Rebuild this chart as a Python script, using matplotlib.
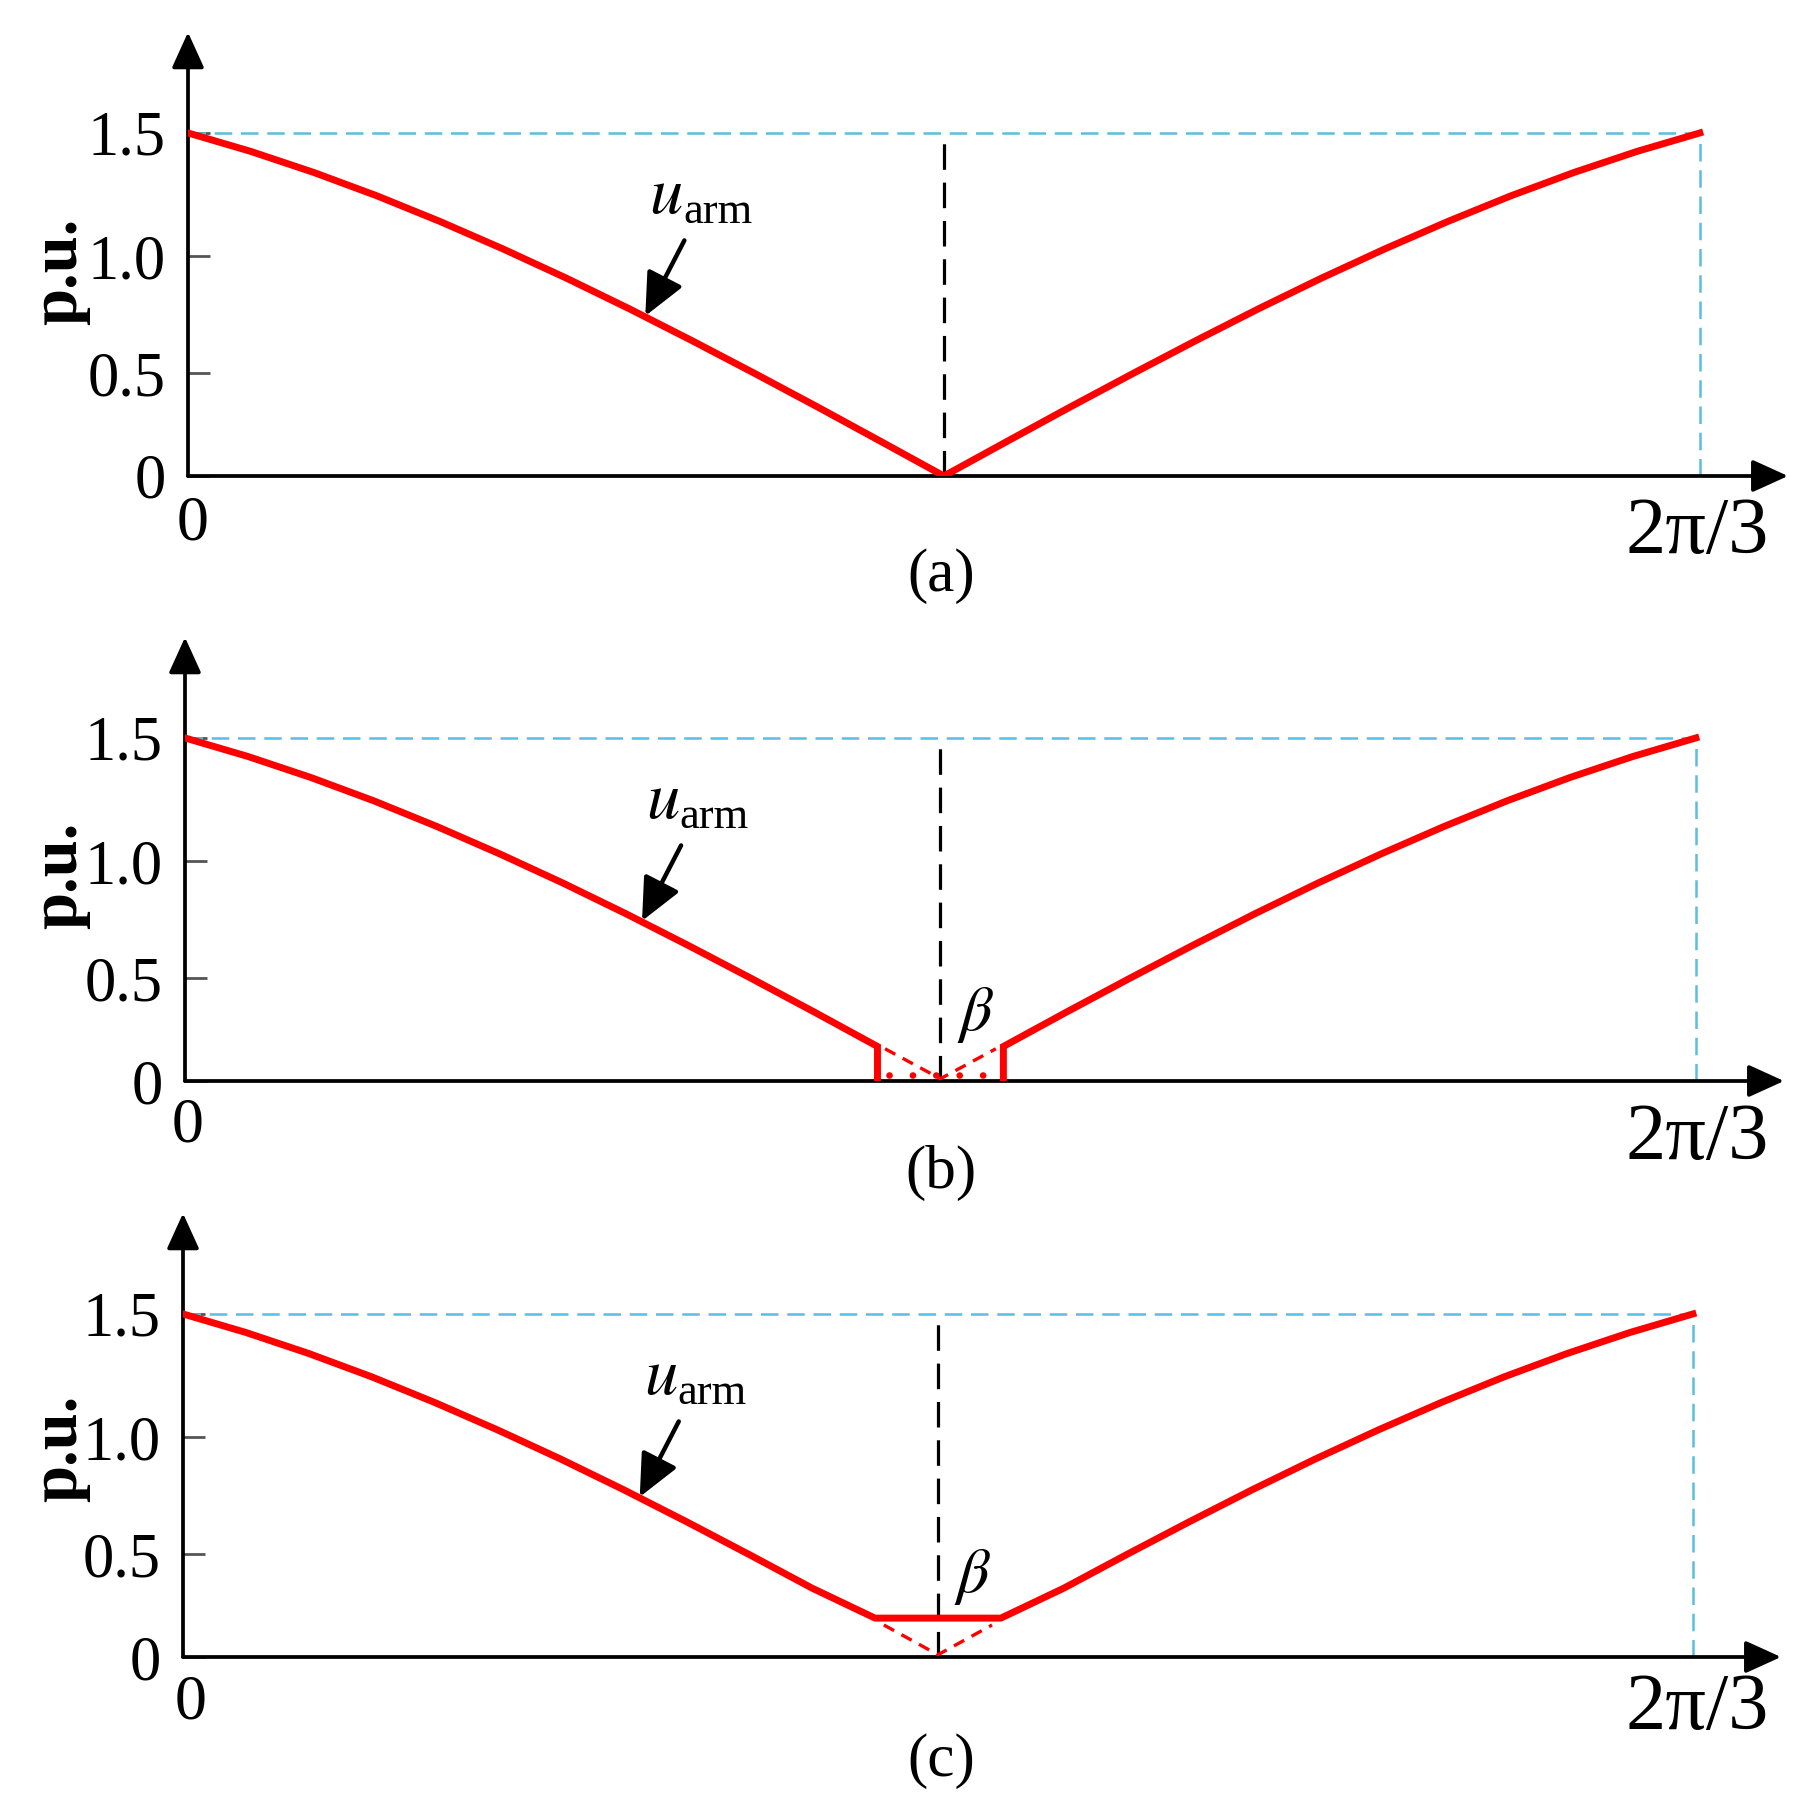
import matplotlib
matplotlib.use('Agg')
import matplotlib.pyplot as plt

plt.rcParams['font.family'] = ['Liberation Serif', 'DejaVu Serif']
plt.rcParams['mathtext.fontset'] = 'stix'

# ---------------- data ----------------
theta_left = [0, 5, 10, 15, 20, 25, 30, 35, 40, 45, 50, 55, 60]
u_left = [1.5, 1.419, 1.327, 1.225, 1.113, 0.993, 0.866, 0.732, 0.592, 0.448, 0.301, 0.151, 0.0]
theta_right = [60, 65, 70, 75, 80, 85, 90, 95, 100, 105, 110, 115, 120]
u_right = [0.0, 0.151, 0.301, 0.448, 0.592, 0.732, 0.866, 0.993, 1.113, 1.225, 1.327, 1.419, 1.5]
beta_lo, beta_mid, beta_hi = 55, 60, 65
u_beta_b = 0.151
u_flat_c = 0.17
u_peak = 1.5
theta_end = 120
# tick marks as drawn in the original figure (slightly irregular spacing)
y_tick_positions = [0, 0.45, 0.96, 1.5]
y_ticklabels = ['0', '0.5', '1.0', '1.5']
panel_labels = ['(a)', '(b)', '(c)']
x_start_label = '0'
x_end_label = '2π/3'

# ---------------- layout ----------------
W, H = 1811, 1817
fig = plt.figure(figsize=(W / 100, H / 100), dpi=100)

XMAX, YMAX = 127, 1.94
PX_PER_UNIT = 228.7
# (left px, x-axis y px, arrow tip x px)
panels = [(188, 476, 1788), (185, 1081, 1784), (183, 1657, 1781)]
RED = '#ff0000'
BLUE = '#5bbde0'


def fx(x):
    return x / W


def fy(y):
    return 1 - y / H


for i, (lpx, apx, tpx) in enumerate(panels):
    hpx = YMAX * PX_PER_UNIT
    ax = fig.add_axes([lpx / W, 1 - apx / H, (tpx - lpx) / W, hpx / H])
    ax.set_xlim(0, XMAX)
    ax.set_ylim(0, YMAX)
    for s in ax.spines.values():
        s.set_visible(False)
    ax.set_xticks([])
    ax.set_yticks(y_tick_positions)
    ax.set_yticklabels(y_ticklabels, fontsize=45)
    ax.tick_params(axis='y', direction='in', length=16, width=2.0, color='#555555', pad=16)

    # axes with arrows
    arr = dict(arrowstyle='-|>,head_length=1.1,head_width=0.5', color='black', lw=2.7,
               mutation_scale=20, shrinkA=0, shrinkB=0)
    ax.annotate('', xy=(XMAX, 0), xytext=(0, 0), arrowprops=arr, annotation_clip=False)
    ax.annotate('', xy=(0, YMAX), xytext=(0, 0), arrowprops=arr, annotation_clip=False)

    # blue guide lines
    ax.plot([0, theta_end], [u_peak, u_peak], color=BLUE, lw=1.8, dashes=(7, 3.5), zorder=2)
    ax.plot([theta_end, theta_end], [0, u_peak], color=BLUE, lw=1.8, dashes=(7, 3.5), zorder=2)
    # black centre dashed line
    ax.plot([beta_mid, beta_mid], [0, 1.48], color='black', lw=2.3, dashes=(8, 4), zorder=2)

    lw_red = 5.0
    if i == 0:
        ax.plot(theta_left + theta_right[1:], u_left + u_right[1:], color=RED, lw=lw_red,
                solid_joinstyle='round', zorder=3)
    elif i == 1:
        ax.plot(theta_left[:12] + [beta_lo], u_left[:12] + [0], color=RED, lw=lw_red,
                solid_joinstyle='miter', zorder=3)
        ax.plot([beta_hi] + theta_right[1:], [0] + u_right[1:], color=RED, lw=lw_red,
                solid_joinstyle='miter', zorder=3)
        ax.plot([beta_lo + 0.6, beta_mid, beta_hi - 0.6], [u_beta_b - 0.01, 0.01, u_beta_b - 0.01],
                color=RED, lw=2.4, dashes=(3.5, 2.5), zorder=3)
        ax.plot([beta_lo + 0.9, beta_hi - 0.9], [0.025, 0.025], color=RED, lw=4.8,
                dashes=(0.01, 3.5), dash_capstyle='round', zorder=4)
        ax.text(62.8, 0.29, r'$\beta$', fontsize=46, ha='center', va='center')
    else:
        ax.plot(theta_left[:11] + [beta_lo, beta_hi] + theta_right[2:],
                u_left[:11] + [u_flat_c, u_flat_c] + u_right[2:], color=RED, lw=lw_red,
                solid_joinstyle='round', zorder=3)
        ax.plot([beta_lo + 0.7, beta_mid, beta_hi - 0.7], [0.14, 0.01, 0.14], color=RED, lw=2.4,
                dashes=(3.5, 2.5), zorder=3)
        ax.text(62.8, 0.35, r'$\beta$', fontsize=46, ha='center', va='center')

    # u_arm label + arrow
    ax.text(36.6, 1.15, r'$u$', fontsize=48, ha='left', va='baseline')
    ax.text(39.3, 1.106, 'arm', fontsize=32, ha='left', va='baseline')
    ax.annotate('', xy=(36.3, 0.70), xytext=(39.4, 1.03),
                arrowprops=dict(arrowstyle='-|>,head_length=1.3,head_width=0.6', color='black',
                                lw=3.2, mutation_scale=20, shrinkA=0, shrinkB=0))

# figure-level texts
zero_pos = [(193, 524), (188, 1126), (191, 1703)]
end_pos = [(1697, 533), (1697, 1139), (1697, 1709)]
pu_pos = [(60, 271), (60, 875), (60, 1448)]
lab_pos = [(941, 576), (941, 1173), (941, 1761)]
for i in range(3):
    fig.text(fx(zero_pos[i][0]), fy(zero_pos[i][1]), x_start_label, fontsize=46,
             ha='center', va='center')
    fig.text(fx(end_pos[i][0]), fy(end_pos[i][1]), x_end_label, fontsize=58,
             ha='center', va='center')
    fig.text(fx(pu_pos[i][0]), fy(pu_pos[i][1]), 'p.u.', fontsize=48, fontweight='bold',
             rotation=90, ha='center', va='center')
    fig.text(fx(lab_pos[i][0]), fy(lab_pos[i][1]), panel_labels[i], fontsize=44,
             ha='center', va='center')

fig.savefig('out.png', dpi=100, facecolor='white')
